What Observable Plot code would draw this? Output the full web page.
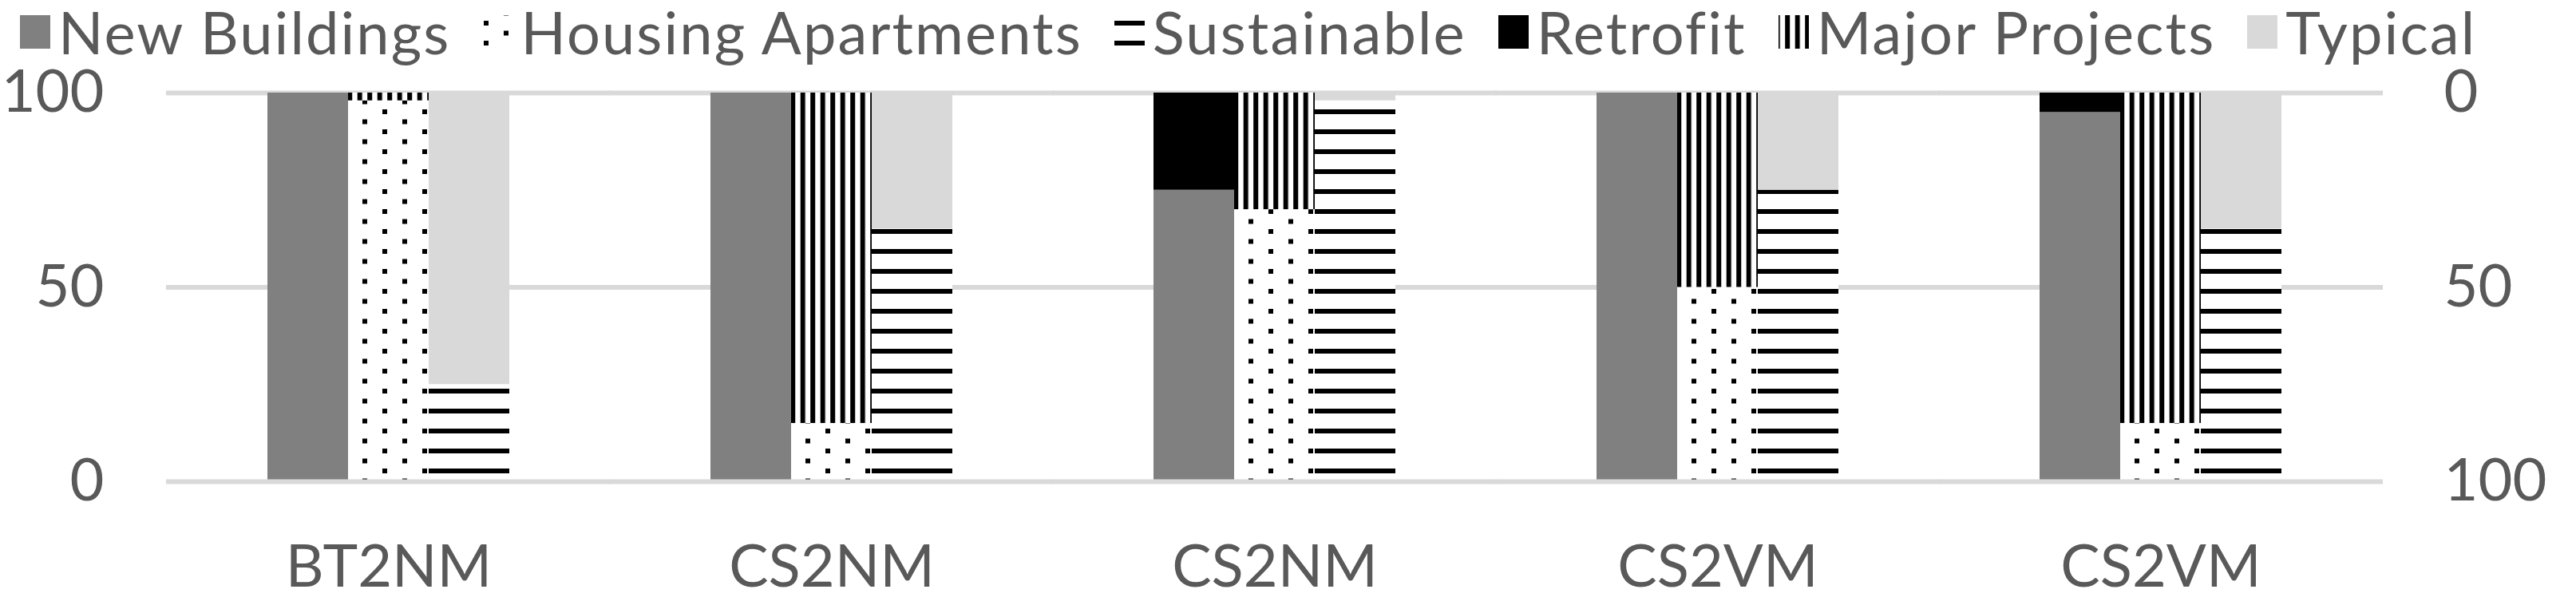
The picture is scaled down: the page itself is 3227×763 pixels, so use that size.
<!DOCTYPE html>
<html>
<head>
<meta charset="utf-8">
<script src="https://cdn.jsdelivr.net/npm/d3@7"></script>
<script src="https://cdn.jsdelivr.net/npm/@observablehq/plot@0.6"></script>
<style>
  html, body { margin: 0; padding: 0; background: #fff; }
  body { width: 3227px; height: 763px; overflow: hidden; font-family: "Lato", sans-serif; }
  #legend { height: 80px; display: flex; align-items: center; padding-left: 25px; box-sizing: border-box;
            font-size: 74px; line-height: 1; color: #595959; white-space: nowrap; letter-spacing: 2.1px; }
  .item { display: flex; align-items: center; margin-right: 40px; }
  .item svg { margin-right: 10px; display: block; }
</style>
</head>
<body>
<svg width="0" height="0" style="position:absolute">
  <defs>
    <pattern id="dots" patternUnits="userSpaceOnUse" x="2" y="7" width="50" height="25">
      <rect width="50" height="25" fill="#fff"></rect>
      <rect x="0" y="0" width="6" height="6" fill="#000"></rect>
      <rect x="25" y="12.5" width="6" height="6" fill="#000"></rect>
    </pattern>
    <pattern id="vlines" patternUnits="userSpaceOnUse" x="8.2" y="0" width="12.5" height="25">
      <rect width="12.5" height="25" fill="#fff"></rect>
      <rect x="0" y="0" width="6" height="25" fill="#000"></rect>
    </pattern>
    <pattern id="hlines" patternUnits="userSpaceOnUse" x="0" y="7" width="25" height="25">
      <rect width="25" height="25" fill="#fff"></rect>
      <rect x="0" y="0" width="25" height="6" fill="#000"></rect>
    </pattern>
  </defs>
</svg>
<div id="legend"></div>
<div id="chart"></div>
<script>
// ---- data ----
const groups = ["BT2NM", "CS2NM", "CS2NM", "CS2VM", "CS2VM"];
const newBuildings      = [100, 100, 75, 100, 95];
const retrofit          = [0, 0, 25, 0, 5];
const housingApartments = [98, 15, 70, 50, 15];
const majorProjects     = [2, 85, 30, 50, 85];
const sustainable       = [25, 65, 98, 75, 65];
const typical           = [75, 35, 2, 25, 35];
const yTicks = [0, 50, 100];
const legendOrder = ["New Buildings", "Housing Apartments", "Sustainable", "Retrofit", "Major Projects", "Typical"];

// ---- styles ----
const fills = {
  "New Buildings": "#808080",
  "Retrofit": "#000000",
  "Housing Apartments": "url(#dots)",
  "Major Projects": "url(#vlines)",
  "Sustainable": "url(#hlines)",
  "Typical": "#d9d9d9"
};
const seriesNames = Object.keys(fills);

const rows = groups.flatMap((g, i) => [
  {g: i, bar: "A", series: "New Buildings", value: newBuildings[i]},
  {g: i, bar: "A", series: "Retrofit", value: retrofit[i]},
  {g: i, bar: "B", series: "Housing Apartments", value: housingApartments[i]},
  {g: i, bar: "B", series: "Major Projects", value: majorProjects[i]},
  {g: i, bar: "C", series: "Sustainable", value: sustainable[i]},
  {g: i, bar: "C", series: "Typical", value: typical[i]}
]);

// ---- legend ----
const legend = document.getElementById("legend");
for (const name of legendOrder) {
  const item = document.createElement("div");
  item.className = "item";
  item.innerHTML = `<svg width="38" height="42"><rect width="38" height="42" fill="${fills[name]}"></rect></svg><span>${name}</span>`;
  legend.appendChild(item);
}

// ---- chart ----
const W = 3227, mL = 207, mR = 241;
const nG = groups.length, pIn = 0.45, pOut = 0.225;
// half of the gap between facets (gridlines run continuously across the plot area)
const gapHalf = ((W - mL - mR) / (nG - pIn + 2 * pOut)) * pOut;
const gridRule = (values) => Plot.ruleY(values, {
  stroke: "#d9d9d9", strokeWidth: 6, insetLeft: -gapHalf - 1, insetRight: -gapHalf - 1
});

const chart = Plot.plot({
  width: W,
  height: 683,
  marginTop: 36,
  marginBottom: 160,
  marginLeft: mL,
  marginRight: mR,
  style: {fontFamily: "Lato, sans-serif", fontSize: "74px", color: "#595959", background: "#fff", overflow: "visible"},
  fx: {domain: d3.range(nG), paddingInner: pIn, paddingOuter: pOut, axis: null, label: null},
  x: {domain: ["A", "B", "C"], padding: 0, axis: null, label: null},
  y: {domain: [0, 100], axis: null, label: null},
  color: {type: "ordinal", domain: seriesNames, range: seriesNames.map(s => fills[s])},
  marks: [
    gridRule([50, 100]),
    Plot.barY(rows, {fx: "g", x: "bar", y: "value", fill: "series"}),
    gridRule([0]),
    Plot.axisY({anchor: "left", ticks: yTicks, tickSize: 0, tickPadding: 79 + gapHalf, label: null, fill: "#595959"}),
    Plot.axisY({anchor: "right", ticks: yTicks, tickSize: 0, tickPadding: 77 + gapHalf, label: null, fill: "#595959", tickFormat: d => 100 - d}),
    Plot.axisFx({anchor: "bottom", tickSize: 0, tickPadding: 79, label: null, fill: "#595959", tickFormat: i => groups[i]})
  ]
});
document.getElementById("chart").appendChild(chart);
</script>
</body>
</html>
